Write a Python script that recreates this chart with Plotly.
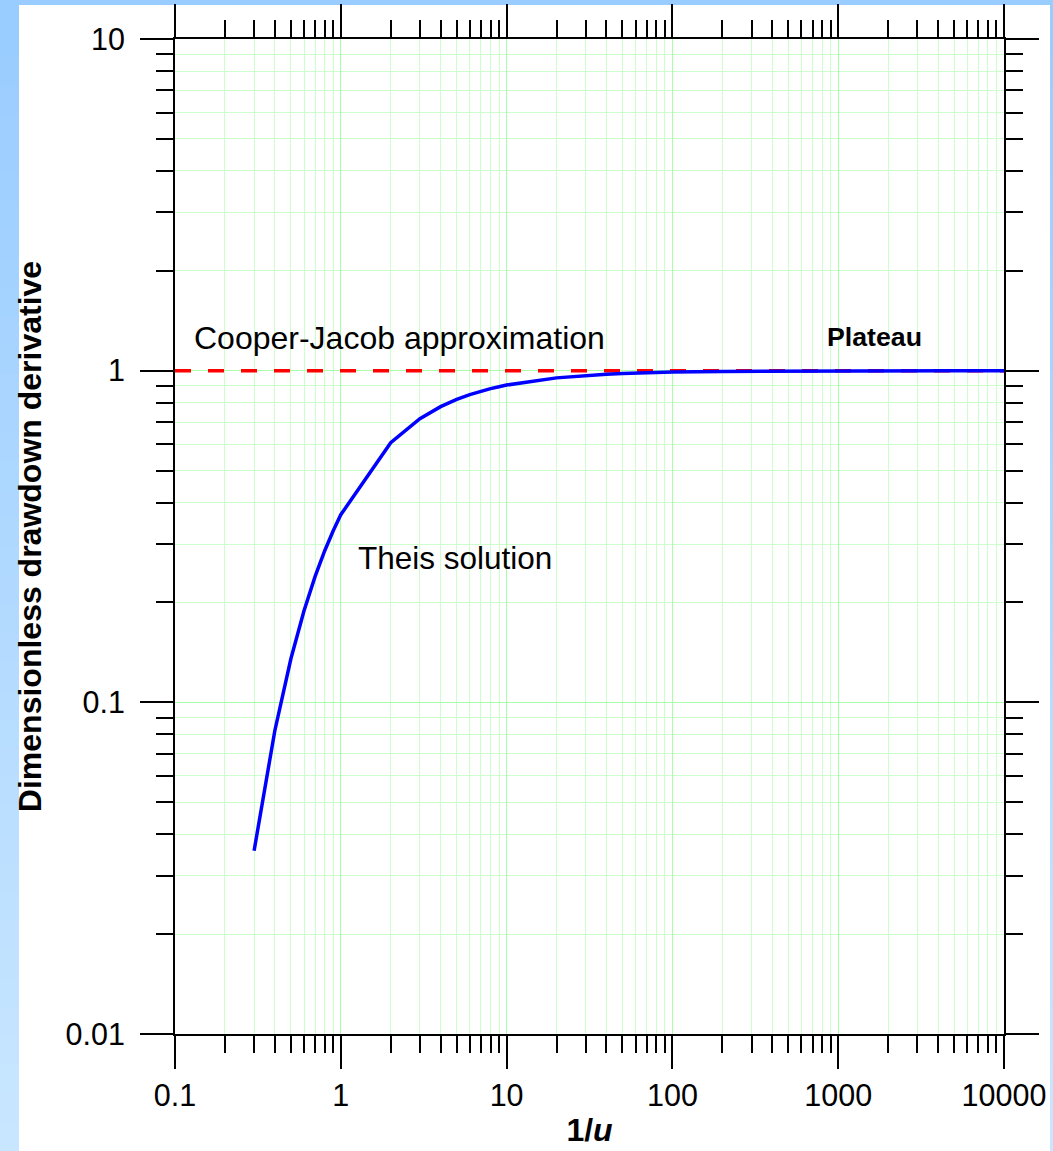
import plotly.graph_objects as go

# ---- data ----
inv_u = [0.3, 0.4, 0.5, 0.6, 0.7, 0.8, 0.9, 1, 2, 3, 4, 5, 6, 7, 8, 9, 10,
         20, 30, 40, 50, 60, 70, 80, 90, 100, 200, 500, 1000, 2000, 5000, 10000]
theis = [0.0357, 0.0821, 0.1353, 0.1889, 0.2397, 0.2865, 0.3292, 0.3679, 0.6065,
         0.7165, 0.7788, 0.8187, 0.8465, 0.8669, 0.8825, 0.8948, 0.9048,
         0.9512, 0.9672, 0.9753, 0.9802, 0.9835, 0.9858, 0.9876, 0.9890, 0.9900,
         0.9950, 0.9980, 0.9990, 0.9995, 0.9998, 0.9999]
cj_x = [0.1, 10000]
cj_y = [1, 1]

x_ticks = [0.1, 1, 10, 100, 1000, 10000]
x_ticktext = ["0.1", "1", "10", "100", "1000", "10000"]
y_ticks = [0.01, 0.1, 1, 10]
y_ticktext = ["0.01", "0.1", "1", "10"]

x_minor = [d * 10.0 ** e for e in range(-1, 4) for d in range(2, 10)]
y_minor = [d * 10.0 ** e for e in range(-2, 1) for d in range(2, 10)]

W, H = 1053, 1151
ML, MR, MT, MB = 175, 49, 39, 117
PW = W - ML - MR
PH = H - MT - MB


def px(x):
    return (x - ML) / PW


def py(y):
    return (H - MB - y) / PH


FONT = "Liberation Sans, Arial, sans-serif"

fig = go.Figure()
fig.add_trace(go.Scatter(x=cj_x, y=cj_y, mode="lines",
                         line=dict(color="#ff0000", width=3.5, dash="16px,17px"),
                         showlegend=False))
fig.add_trace(go.Scatter(x=inv_u, y=theis, mode="lines",
                         line=dict(color="#0000ff", width=3.5),
                         showlegend=False))

# background gradient bands + white panel
shapes = []
N = 40
c0 = (0x99, 0xcc, 0xff)
c1 = (0xc8, 0xe6, 0xff)
for i in range(N):
    t = i / (N - 1)
    col = "rgb(%d,%d,%d)" % tuple(round(a + (b - a) * t) for a, b in zip(c0, c1))
    y_top = H * i / N
    y_bot = H * (i + 1) / N + 1
    shapes.append(dict(type="rect", xref="paper", yref="paper", layer="below",
                       x0=px(-2), x1=px(W + 2), y0=py(y_bot), y1=py(y_top),
                       fillcolor=col, line=dict(width=0)))
shapes.append(dict(type="rect", xref="paper", yref="paper", layer="below",
                   x0=px(19), x1=px(1050), y0=py(H + 5), y1=py(5),
                   fillcolor="white", line=dict(width=0)))

axis_common = dict(
    type="log", showline=True, linecolor="black", linewidth=2, mirror="allticks",
    ticks="outside", ticklen=33, tickwidth=2, tickcolor="black",
    showgrid=True, gridcolor="#a8ffa8", gridwidth=1,
    tickfont=dict(family=FONT, size=30.5, color="black"),
    zeroline=False,
)

fig.update_layout(
    width=W, height=H,
    margin=dict(l=ML, r=MR, t=MT, b=MB, autoexpand=False),
    paper_bgcolor="#99ccff",
    plot_bgcolor="rgba(0,0,0,0)",
    shapes=shapes,
    xaxis=dict(axis_common, range=[-1, 4], tickvals=x_ticks, ticktext=x_ticktext,
               minor=dict(tickvals=x_minor, ticks="outside", ticklen=17, tickwidth=2,
                          tickcolor="black", showgrid=True, gridcolor="#ccffcc", gridwidth=1),
               title=dict(text="<b>1/<i>u</i></b>", font=dict(family=FONT, size=32, color="black"),
                          standoff=8)),
    yaxis=dict(axis_common, range=[-2, 1], tickvals=y_ticks, ticktext=y_ticktext,
               ticklabelstandoff=9,
               minor=dict(tickvals=y_minor, ticks="outside", ticklen=17, tickwidth=2,
                          tickcolor="black", showgrid=True, gridcolor="#ccffcc", gridwidth=1),
               title=dict(text="<b>Dimensionless drawdown derivative</b>",
                          font=dict(family=FONT, size=32, color="black"), standoff=14)),
    annotations=[
        dict(text="Cooper-Jacob approximation", xref="paper", yref="paper",
             x=px(192), y=py(338), xanchor="left", yanchor="middle", showarrow=False,
             font=dict(family=FONT, size=32, color="black")),
        dict(text="Theis solution", xref="paper", yref="paper",
             x=px(356), y=py(558), xanchor="left", yanchor="middle", showarrow=False,
             font=dict(family=FONT, size=31.5, color="black")),
        dict(text="<b>Plateau</b>", xref="paper", yref="paper",
             x=px(874.5), y=py(336.5), xanchor="center", yanchor="middle", showarrow=False,
             font=dict(family=FONT, size=26.7, color="black")),
    ],
)

fig.write_html("out.html")
